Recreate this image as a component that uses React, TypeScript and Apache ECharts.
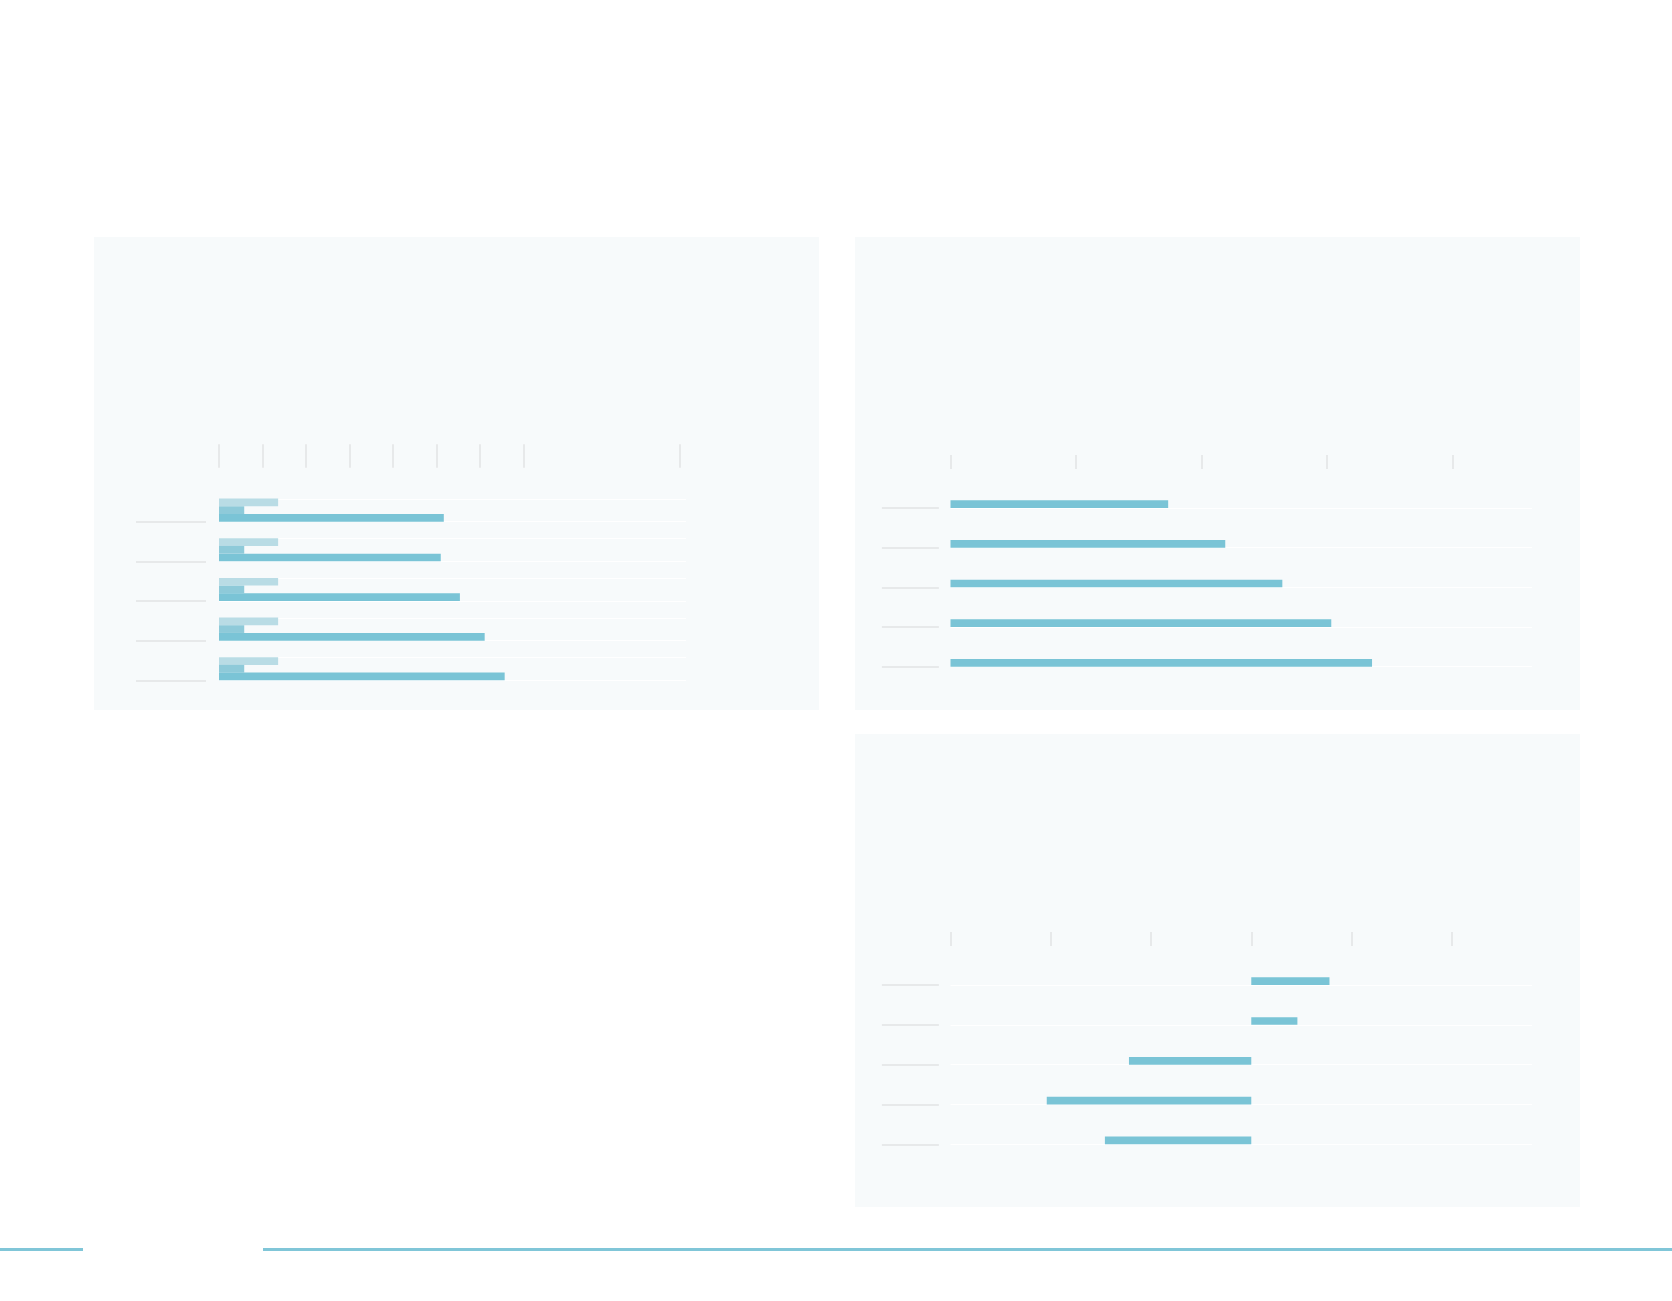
import { useEffect, useRef } from "react";
import * as echarts from "echarts";

// Categories are not labelled in the picture, only their tick marks show
const ROWS = ["r1", "r2", "r3", "r4", "r5"];

// Left panel: three bars per row
const LEFT_TICKS = [0, 10, 20, 30, 40, 50, 60, 70, 106];
const LEFT_MAX = 107.4;
const LEFT_LIGHT = [13.6, 13.6, 13.6, 13.6, 13.6];
const LEFT_MID = [5.8, 5.8, 5.8, 5.8, 5.8];
const LEFT_DARK = [51.7, 51.0, 55.4, 61.1, 65.7];

// Top right panel
const TOP_RIGHT_TICKS = [0, 20, 40, 60, 80];
const TOP_RIGHT_MAX = 92.7;
const TOP_RIGHT_VALUES = [34.7, 43.8, 52.9, 60.7, 67.2];

// Bottom right panel (diverging around zero)
const BOTTOM_RIGHT_TICKS = [-15, -10, -5, 0, 5, 10];
const BOTTOM_RIGHT_MIN = -15;
const BOTTOM_RIGHT_MAX = 14;
const BOTTOM_RIGHT_VALUES = [3.9, 2.3, -6.1, -10.2, -7.3];

const PANEL_BG = "#f7fafb";
const BAR_DARK = "#7ac4d6";
const BAR_MID = "#8ecad9";
const BAR_LIGHT = "#b9dce5";
const TICK_GRAY = "#e2e3e5";
const BAR_W = 7.7;

function xAxisTop(min: number, max: number, ticks: number[], offset: number, len: number, gridIndex = 0) {
  return {
    type: "value",
    gridIndex,
    position: "top",
    min,
    max,
    offset,
    axisLine: { show: false, onZero: false },
    axisLabel: { show: false },
    splitLine: { show: false },
    axisTick: {
      show: true,
      length: len,
      customValues: ticks,
      lineStyle: { color: TICK_GRAY, width: 1.5 },
    },
  };
}

function rowAxis(offset: number, len: number, gridIndex = 0, showTicks = true) {
  return {
    type: "category",
    gridIndex,
    data: ROWS,
    inverse: true,
    boundaryGap: false,
    position: "left",
    offset,
    axisLine: { show: false, onZero: false },
    axisLabel: { show: false },
    axisTick: {
      show: showTicks,
      interval: 0,
      length: len,
      lineStyle: { color: TICK_GRAY, width: 1.5 },
    },
    splitLine: { show: true, interval: 0, lineStyle: { color: "#ffffff", width: 1 } },
  };
}

function bar(data: number[], color: string) {
  return {
    type: "bar",
    data,
    barWidth: BAR_W,
    barGap: "0%",
    clip: false,
    silent: true,
    itemStyle: { color },
  };
}

// empty bar keeps the group offset so bars sit above the row line
function spacer() {
  return { type: "bar", data: [], barWidth: BAR_W, barGap: "0%", silent: true };
}

function leftOption(): any {
  return {
    animation: false,
    grid: [
      { left: 125, right: 133, top: 284.7, height: 158.6 },
      { left: 125, right: 133, top: 262, height: 158.6 },
    ],
    xAxis: [
      xAxisTop(0, LEFT_MAX, LEFT_TICKS, 54, 23.4),
      { type: "value", gridIndex: 1, min: 0, max: LEFT_MAX, show: false },
    ],
    yAxis: [rowAxis(13, 70), rowAxis(0, 0, 1, false)],
    series: [
      bar(LEFT_LIGHT, BAR_LIGHT),
      bar(LEFT_MID, BAR_MID),
      bar(LEFT_DARK, BAR_DARK),
      spacer(),
      spacer(),
      spacer(),
    ],
  };
}

function rightOption(min: number, max: number, ticks: number[], values: number[], top: number, height: number): any {
  return {
    animation: false,
    grid: { left: 95.5, right: 48, top, height },
    xAxis: xAxisTop(min, max, ticks, 39, 14),
    yAxis: rowAxis(11.6, 57),
    series: [bar(values, BAR_DARK), spacer()],
  };
}

function Panel({ left, top, option }: { left: number; top: number; option: any }) {
  const ref = useRef<HTMLDivElement>(null);

  useEffect(() => {
    if (!ref.current) return;
    const chart = echarts.init(ref.current, undefined, { renderer: "svg" });
    chart.setOption(option);
    return () => chart.dispose();
  }, [option]);

  return (
    <div
      ref={ref}
      style={{ position: "absolute", left, top, width: 725, height: 473, background: PANEL_BG }}
    />
  );
}

const LEFT = leftOption();
const TOP_RIGHT = rightOption(0, TOP_RIGHT_MAX, TOP_RIGHT_TICKS, TOP_RIGHT_VALUES, 271, 158.7);
const BOTTOM_RIGHT = rightOption(BOTTOM_RIGHT_MIN, BOTTOM_RIGHT_MAX, BOTTOM_RIGHT_TICKS, BOTTOM_RIGHT_VALUES, 251, 159.3);

export default function App() {
  return (
    <div
      style={{
        position: "absolute",
        left: 0,
        top: 0,
        width: 1672,
        height: 1301,
        background: "#ffffff",
        overflow: "hidden",
      }}
    >
      <style>{"body { margin: 0; }"}</style>
      <Panel left={94} top={237} option={LEFT} />
      <Panel left={855} top={237} option={TOP_RIGHT} />
      <Panel left={855} top={734} option={BOTTOM_RIGHT} />
      <div style={{ position: "absolute", left: 0, top: 1248, width: 83, height: 2.5, background: "#80c6d8" }} />
      <div style={{ position: "absolute", left: 263, top: 1248, width: 1409, height: 2.5, background: "#80c6d8" }} />
    </div>
  );
}
